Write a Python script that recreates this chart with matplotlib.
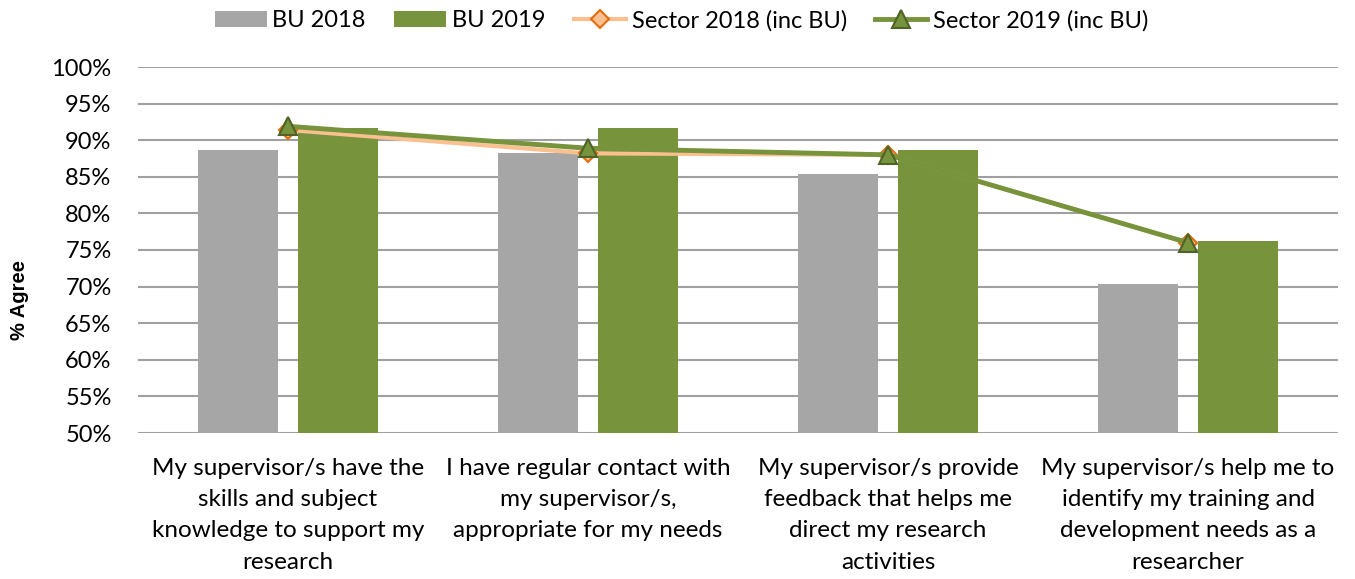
import matplotlib
matplotlib.use("Agg")
import matplotlib.pyplot as plt
import numpy as np
from matplotlib.ticker import FuncFormatter

categories = [
    "My supervisor/s have the\nskills and subject\nknowledge to support my\nresearch",
    "I have regular contact with\nmy supervisor/s,\nappropriate for my needs",
    "My supervisor/s provide\nfeedback that helps me\ndirect my research\nactivities",
    "My supervisor/s help me to\nidentify my training and\ndevelopment needs as a\nresearcher",
]
bu_2018 = [88.7, 88.2, 85.4, 70.3]
bu_2019 = [91.6, 91.7, 88.7, 76.2]
sector_2018 = [91.4, 88.2, 88.0, 76.0]
sector_2019 = [91.9, 88.9, 88.0, 76.0]
yticks = list(range(50, 101, 5))

plt.rcParams['font.family'] = ['Lato', 'DejaVu Sans']

fig = plt.figure(figsize=(13.55, 5.79), dpi=100)
ax = fig.add_axes([138/1355, 1-433/579, 1200/1355, 366/579])

x = np.arange(len(categories))
w = 0.267
b1 = ax.bar(x - 0.167, bu_2018, width=w, color='#A6A6A6', label='BU 2018', zorder=2)
b2 = ax.bar(x + 0.167, bu_2019, width=w, color='#77933C', label='BU 2019', zorder=2)
l1, = ax.plot(x, sector_2018, color='#FAC090', lw=3, marker='D', markersize=9,
              markerfacecolor='#FAC090', markeredgecolor='#E46C0A', markeredgewidth=1.5,
              label='Sector 2018 (inc BU)', zorder=3)
l2, = ax.plot(x, sector_2019, color='#77933C', lw=3.5, marker='^', markersize=13,
              markerfacecolor='#77933C', markeredgecolor='#4F6228', markeredgewidth=1.5,
              label='Sector 2019 (inc BU)', zorder=4)

ax.set_xlim(-0.5, 3.5)
ax.set_ylim(50, 100)
ax.set_yticks(yticks)
ax.yaxis.set_major_formatter(FuncFormatter(lambda v, p: f"{int(v)}%"))
ax.grid(axis='y', color='#A0A0A0', lw=1.5, zorder=0)
ax.set_axisbelow(True)
for s in ax.spines.values():
    s.set_visible(False)
ax.tick_params(axis='y', length=0, labelsize=17, pad=19)
ax.tick_params(axis='x', length=0, labelsize=17.5, pad=18)
ax.set_xticks(x)
ax.set_xticklabels(categories, linespacing=1.6)
ax.set_ylabel('% Agree', fontsize=14.5, fontweight='bold',
              family=['Liberation Sans', 'DejaVu Sans'])
ax.yaxis.set_label_coords(-0.091, 0.363)

fig.legend([b1, b2, l1, l2], [h.get_label() for h in [b1, b2, l1, l2]],
           loc='upper center', bbox_to_anchor=(0.503, 1.02), ncol=4, frameon=False,
           fontsize=17, handlelength=2.2, handletextpad=0.25, columnspacing=1.2)

fig.savefig('out.png', dpi=100)
